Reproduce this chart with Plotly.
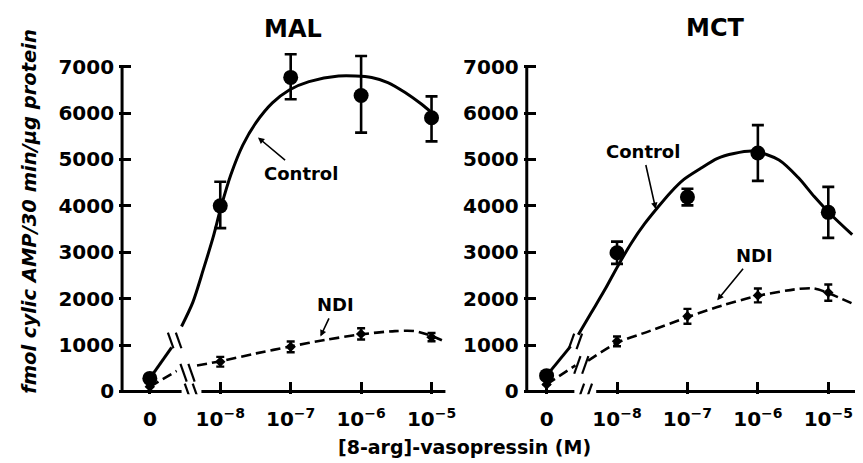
import plotly.graph_objects as go

# ---------------- data ----------------
# x = log10([8-arg]-vasopressin, M); the "0" dose is drawn one decade left of 1e-8
dose_pos = [-9, -8, -7, -6, -5]
dose_labels = ["0", "10<sup>−8</sup>", "10<sup>−7</sup>", "10<sup>−6</sup>", "10<sup>−5</sup>"]
y_ticks = [0, 1000, 2000, 3000, 4000, 5000, 6000, 7000]

# MAL
mal_ctrl = [280, 4000, 6770, 6380, 5900]
mal_ctrl_up = [0, 520, 500, 850, 460]
mal_ctrl_dn = [0, 480, 470, 800, 510]
mal_ndi = [100, 640, 960, 1240, 1170]
mal_ndi_err = [0, 105, 115, 120, 90]

mal_ctrl_fit_a_x = [-9.0, -8.69]
mal_ctrl_fit_a_y = [280, 950]
mal_ctrl_fit_b_x = [-8.55, -8.39, -8.24, -8.10, -7.99, -7.85, -7.68, -7.49, -7.26, -7.02, -6.74, -6.32, -5.85, -5.62, -5.38, -5.14, -4.99]
mal_ctrl_fit_b_y = [1400, 1920, 2630, 3330, 3970, 4670, 5310, 5800, 6220, 6500, 6680, 6800, 6770, 6660, 6450, 6190, 6000]
mal_ndi_fit_a_x = [-9.0, -8.62]
mal_ndi_fit_a_y = [100, 440]
mal_ndi_fit_b_x = [-8.33, -8.0, -7.49, -7.0, -6.51, -6.0, -5.52, -5.24, -4.99, -4.79]
mal_ndi_fit_b_y = [560, 650, 820, 970, 1110, 1230, 1300, 1300, 1190, 1060]

# MCT
mct_ctrl = [340, 2990, 4190, 5140, 3860]
mct_ctrl_up = [0, 240, 180, 600, 550]
mct_ctrl_dn = [0, 240, 180, 600, 550]
mct_ndi = [150, 1080, 1620, 2070, 2130]
mct_ndi_err = [0, 105, 160, 150, 175]

mct_ctrl_fit_a_x = [-9.0, -8.66]
mct_ctrl_fit_a_y = [340, 970]
mct_ctrl_fit_b_x = [-8.55, -8.36, -8.17, -7.99, -7.80, -7.61, -7.42, -7.24, -7.05, -6.81, -6.58, -6.34, -6.06, -5.70, -5.42, -5.20, -4.96, -4.66]
mct_ctrl_fit_b_y = [1220, 1710, 2200, 2700, 3190, 3610, 3970, 4290, 4570, 4810, 5020, 5130, 5180, 4990, 4600, 4200, 3810, 3380]
mct_ndi_fit_a_x = [-9.0, -8.59]
mct_ndi_fit_a_y = [150, 560]
mct_ndi_fit_b_x = [-8.41, -8.01, -7.54, -7.0, -6.51, -6.0, -5.42, -5.20, -5.0, -4.58]
mct_ndi_fit_b_y = [660, 1040, 1300, 1600, 1850, 2060, 2210, 2220, 2120, 1840]

# ---------------- layout geometry ----------------
W, H = 863, 463
PX_DEC = 71.0        # pixels per decade
PX_UNIT = 0.0473     # pixels per fmol unit
Y0_PX = 391          # pixel row of y = 0
YTOP_PX = 40
YBOT_PX = 394

FONT = "DejaVu Sans"
BLACK = "black"

panels = [
    dict(name="MAL", xa="x", ya="y", zero_px=143, left_px=112, axis_px=115, right_px=445, axis_end_px=441,
         gap=(175, 195), brk_ctrl=(168, 339), brk_ndi=(181, 372), brk_dir=1,
         ctrl=mal_ctrl, cup=mal_ctrl_up, cdn=mal_ctrl_dn, ndi=mal_ndi, nerr=mal_ndi_err,
         cfa=(mal_ctrl_fit_a_x, mal_ctrl_fit_a_y), cfb=(mal_ctrl_fit_b_x, mal_ctrl_fit_b_y),
         nfa=(mal_ndi_fit_a_x, mal_ndi_fit_a_y), nfb=(mal_ndi_fit_b_x, mal_ndi_fit_b_y),
         title_xy=(287, 21),
         ctrl_lab=((295, 168), (252, 132)), ndi_lab=((330, 303), (315, 335))),
    dict(name="MCT", xa="x2", ya="y2", zero_px=543, left_px=520, axis_px=523, right_px=863, axis_end_px=866,
         gap=(571, 593), brk_ctrl=(572, 340), brk_ndi=(578, 364), brk_dir=-1,
         ctrl=mct_ctrl, cup=mct_ctrl_up, cdn=mct_ctrl_dn, ndi=mct_ndi, nerr=mct_ndi_err,
         cfa=(mct_ctrl_fit_a_x, mct_ctrl_fit_a_y), cfb=(mct_ctrl_fit_b_x, mct_ctrl_fit_b_y),
         nfa=(mct_ndi_fit_a_x, mct_ndi_fit_a_y), nfb=(mct_ndi_fit_b_x, mct_ndi_fit_b_y),
         title_xy=(713, 20),
         ctrl_lab=((640, 147), (653, 205)), ndi_lab=((752, 253), (715, 298))),
]

fig = go.Figure()
shapes = []
annotations = []


def px_to_x(p, px):
    return -9 + (px - p["zero_px"]) / PX_DEC


def py_to_y(py):
    return (Y0_PX - py) / PX_UNIT


for p in panels:
    xa, ya = p["xa"], p["ya"]
    # fitted curves
    for (cx, cy) in (p["cfa"], p["cfb"]):
        fig.add_trace(go.Scatter(x=cx, y=cy, mode="lines", xaxis=xa, yaxis=ya,
                                 line=dict(color=BLACK, width=3, shape="spline", smoothing=0.8),
                                 hoverinfo="skip", showlegend=False))
    for (cx, cy) in (p["nfa"], p["nfb"]):
        fig.add_trace(go.Scatter(x=cx, y=cy, mode="lines", xaxis=xa, yaxis=ya,
                                 line=dict(color=BLACK, width=2.6, dash="10px,5px", shape="spline", smoothing=0.8),
                                 hoverinfo="skip", showlegend=False))
    # data points
    fig.add_trace(go.Scatter(x=dose_pos, y=p["ctrl"], mode="markers", xaxis=xa, yaxis=ya,
                             marker=dict(color=BLACK, size=15),
                             error_y=dict(type="data", array=p["cup"], arrayminus=p["cdn"], symmetric=False,
                                          color=BLACK, thickness=2.6, width=6),
                             cliponaxis=False, showlegend=False))
    fig.add_trace(go.Scatter(x=dose_pos, y=p["ndi"], mode="markers", xaxis=xa, yaxis=ya,
                             marker=dict(color=BLACK, size=8, symbol="diamond"),
                             error_y=dict(type="data", array=p["nerr"], color=BLACK, thickness=2.4, width=4),
                             cliponaxis=False, showlegend=False))

    # axis lines (drawn with a break on the x axis)
    x_axis_pos = px_to_x(p, p["axis_px"])
    shapes.append(dict(type="line", xref=xa, yref=ya, x0=x_axis_pos, x1=x_axis_pos, y0=0, y1=y_ticks[-1],
                       line=dict(color=BLACK, width=3)))
    shapes.append(dict(type="line", xref=xa, yref=ya, x0=x_axis_pos, x1=px_to_x(p, p["gap"][0]), y0=0, y1=0,
                       line=dict(color=BLACK, width=3)))
    shapes.append(dict(type="line", xref=xa, yref=ya, x0=px_to_x(p, p["gap"][1]), x1=px_to_x(p, p["axis_end_px"]),
                       y0=0, y1=0, line=dict(color=BLACK, width=3)))
    # break marks "//"
    d = p["brk_dir"]
    for (bx, by, half_h) in ((p["brk_ctrl"][0], p["brk_ctrl"][1], 8),
                             (p["brk_ndi"][0], p["brk_ndi"][1], 9),
                             ((p["gap"][0] + p["gap"][1]) / 2, Y0_PX, 8)):
        for off in (-4, 4):
            cx = bx + off
            shapes.append(dict(type="line", xref=xa, yref=ya,
                               x0=px_to_x(p, cx - d * half_h * 0.35), y0=py_to_y(by - half_h),
                               x1=px_to_x(p, cx + d * half_h * 0.35), y1=py_to_y(by + half_h),
                               line=dict(color=BLACK, width=2.2)))

    # panel title
    tx, ty = p["title_xy"]
    annotations.append(dict(text=p["name"], xref="paper", yref="paper", x=tx / W, y=1 - ty / H,
                            showarrow=False, xanchor="center", yanchor="middle",
                            font=dict(family=FONT, size=24, color=BLACK, weight="bold")))
    # curve labels with arrows
    for lab, ((lx, ly), (hx, hy)) in (("Control", p["ctrl_lab"]), ("NDI", p["ndi_lab"])):
        annotations.append(dict(text=lab, xref=xa, yref=ya, x=px_to_x(p, hx), y=py_to_y(hy),
                                ax=lx - hx, ay=ly - hy, showarrow=True, arrowhead=2, arrowsize=0.8,
                                arrowwidth=1.6, arrowcolor=BLACK, standoff=0, startstandoff=2,
                                font=dict(family=FONT, size=18, color=BLACK, weight="bold")))

# axis titles
annotations.append(dict(text="fmol cylic AMP/30 min/µg protein", xref="paper", yref="paper",
                        x=22 / W, y=1 - 207 / H, textangle=-90, showarrow=False,
                        xanchor="center", yanchor="middle",
                        font=dict(family=FONT, size=19.5, color=BLACK, weight="bold", style="italic")))
annotations.append(dict(text="[8-arg]-vasopressin (M)", xref="paper", yref="paper",
                        x=460 / W, y=1 - 448 / H, showarrow=False, xanchor="center", yanchor="middle",
                        font=dict(family=FONT, size=19, color=BLACK, weight="bold")))

tickfont = dict(family=FONT, size=20, color=BLACK, weight="bold")
y_range = [py_to_y(YBOT_PX), py_to_y(YTOP_PX)]
y_domain = [1 - YBOT_PX / H, 1 - YTOP_PX / H]

layout_axes = {}
for i, p in enumerate(panels):
    suffix = "" if i == 0 else "2"
    layout_axes["xaxis" + suffix] = dict(
        domain=[p["left_px"] / W, p["right_px"] / W],
        range=[px_to_x(p, p["left_px"]), px_to_x(p, p["right_px"])],
        anchor="y" + suffix, tickmode="array", tickvals=dose_pos, ticktext=dose_labels,
        ticks="inside", ticklen=12, tickwidth=3, tickcolor=BLACK, showline=False,
        showgrid=False, zeroline=False, tickfont=tickfont, ticklabelstandoff=11,
    )
    layout_axes["yaxis" + suffix] = dict(
        domain=y_domain, range=y_range, anchor="x" + suffix,
        tickmode="array", tickvals=y_ticks, ticks="inside", ticklen=12, tickwidth=3, tickcolor=BLACK,
        showline=False, showgrid=False, zeroline=False, tickfont=tickfont, ticklabelstandoff=4,
    )

fig.update_layout(
    width=W, height=H, margin=dict(l=0, r=0, t=0, b=0),
    paper_bgcolor="white", plot_bgcolor="white",
    shapes=shapes, annotations=annotations, showlegend=False,
    **layout_axes,
)

fig.write_html("out.html")
